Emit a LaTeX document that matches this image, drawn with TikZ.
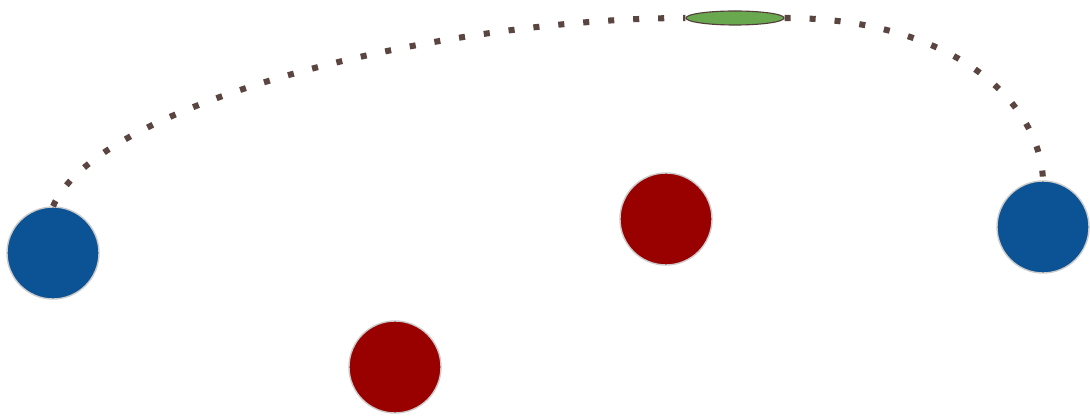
\documentclass[tikz,border=0pt]{standalone}
\usetikzlibrary{shapes.geometric}

\definecolor{dotbrown}{HTML}{5B4540}
\definecolor{bluefill}{HTML}{0B5394}
\definecolor{redfill}{HTML}{990000}
\definecolor{greenfill}{HTML}{6AA84F}

\begin{document}
\begin{tikzpicture}[
  x=0.025cm, y=-0.025cm,
  ball/.style={circle, draw=gray!40, line width=1pt, minimum size=2.3cm, inner sep=0pt},
  bluenode/.style={ball, fill=bluefill},
  rednode/.style={ball, fill=redfill},
  pad/.style={ellipse, draw=dotbrown!90!black, line width=0.8pt, fill=greenfill,
              minimum width=2.45cm, minimum height=0.35cm, inner sep=0pt},
  link/.style={draw=dotbrown, line width=4.3pt, dash pattern=on 4.3pt off 13.5pt},
]
\useasboundingbox (0,0) rectangle (1090,418);

%% ── Blue nodes ───────────────────────────────────────────────────────────────
\node[bluenode] (left) at (53, 253) {};
\node[bluenode] (right) at (1043, 227) {};

%% ── Red nodes ────────────────────────────────────────────────────────────────
\node[rednode] (redtop) at (666, 219) {};
\node[rednode] (redlow) at (395, 367) {};

%% ── Green pad on top ─────────────────────────────────────────────────────────
\node[pad] (tip) at (735, 18) {};

%% ── Dotted arc ───────────────────────────────────────────────────────────────
\draw[link] (left.north) .. controls (100, 100) and (450, 18) .. (tip.west);
\draw[link] (tip.east) .. controls (950, 18) and (1040, 100) .. (right.north);

\end{tikzpicture}
\end{document}
